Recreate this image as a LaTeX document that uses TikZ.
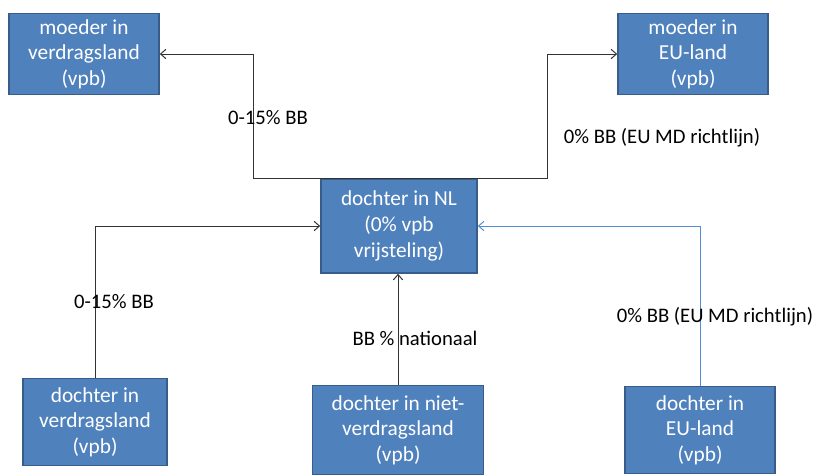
\documentclass[tikz,border=0pt]{standalone}
\usepackage{fontspec}
\setmainfont{Carlito}
\usetikzlibrary{arrows.meta, calc}

\begin{document}
\begin{tikzpicture}[
    x=0.75pt, y=-0.75pt,
    box/.style={draw=boxline, fill=boxfill, line width=1.2pt, text=white, align=center,
      font=\fontsize{16}{19.2}\selectfont, inner sep=0pt},
    link/.style={draw=black!80, line width=0.75pt, -{Straight Barb[length=4pt, width=7pt]}},
    eulink/.style={link, draw=eublue},
    label text/.style={font=\fontsize{15.5}{18}\selectfont, inner sep=0pt}
]
\definecolor{boxfill}{RGB}{79,129,189}
\definecolor{boxline}{RGB}{56,93,138}
\definecolor{eublue}{RGB}{85,142,213}

\useasboundingbox (0,0) rectangle (819,475);

% ====================
% Moeders
% ====================
\node[box, minimum width=150*0.75pt, minimum height=81*0.75pt] (MV) at (84, 54) {moeder in\\verdragsland\\(vpb)};
\node[box, minimum width=150*0.75pt, minimum height=81*0.75pt] (MEU) at (693, 54) {moeder in\\EU-land\\(vpb)};

% Dochter in NL
\node[box, minimum width=156*0.75pt, minimum height=94*0.75pt] (NL) at (399, 226) {dochter in NL\\(0\% vpb\\vrijsteling)};

% ====================
% Dochters
% ====================
\node[box, minimum width=144*0.75pt, minimum height=87*0.75pt] (DV) at (95, 422) {dochter in\\verdragsland\\(vpb)};
\node[box, minimum width=171*0.75pt, minimum height=89*0.75pt] (DNV) at (398, 430) {dochter in niet-\\verdragsland\\(vpb)};
\node[box, minimum width=150*0.75pt, minimum height=87*0.75pt] (DEU) at (700, 430) {dochter in\\EU-land\\(vpb)};

% ====================
% Verbindingen
% ====================
\coordinate (bendL) at (253, 54);
\coordinate (bendR) at (547, 54);

\draw[link] (NL.north) -| (bendL) -- (MV.east);
\draw[link] (NL.north) -| (bendR) -- (MEU.west);

\draw[link] (DV.north) |- (NL.west);
\draw[link] (DNV.north) -- (DNV.north |- NL.south);
\draw[eulink] (DEU.north) |- (NL.east);

% Labels
\node[label text] (lbMV) at (268, 118) {0-15\% BB};
\node[label text] (lbMEU) at (662, 138) {0\% BB (EU MD richtlijn)};
\node[label text] (lbDV) at (114, 302) {0-15\% BB};
\node[label text] (lbDNV) at (415, 338) {BB \% nationaal};
\node[label text] (lbDEU) at (715, 317) {0\% BB (EU MD richtlijn)};

\end{tikzpicture}
\end{document}
